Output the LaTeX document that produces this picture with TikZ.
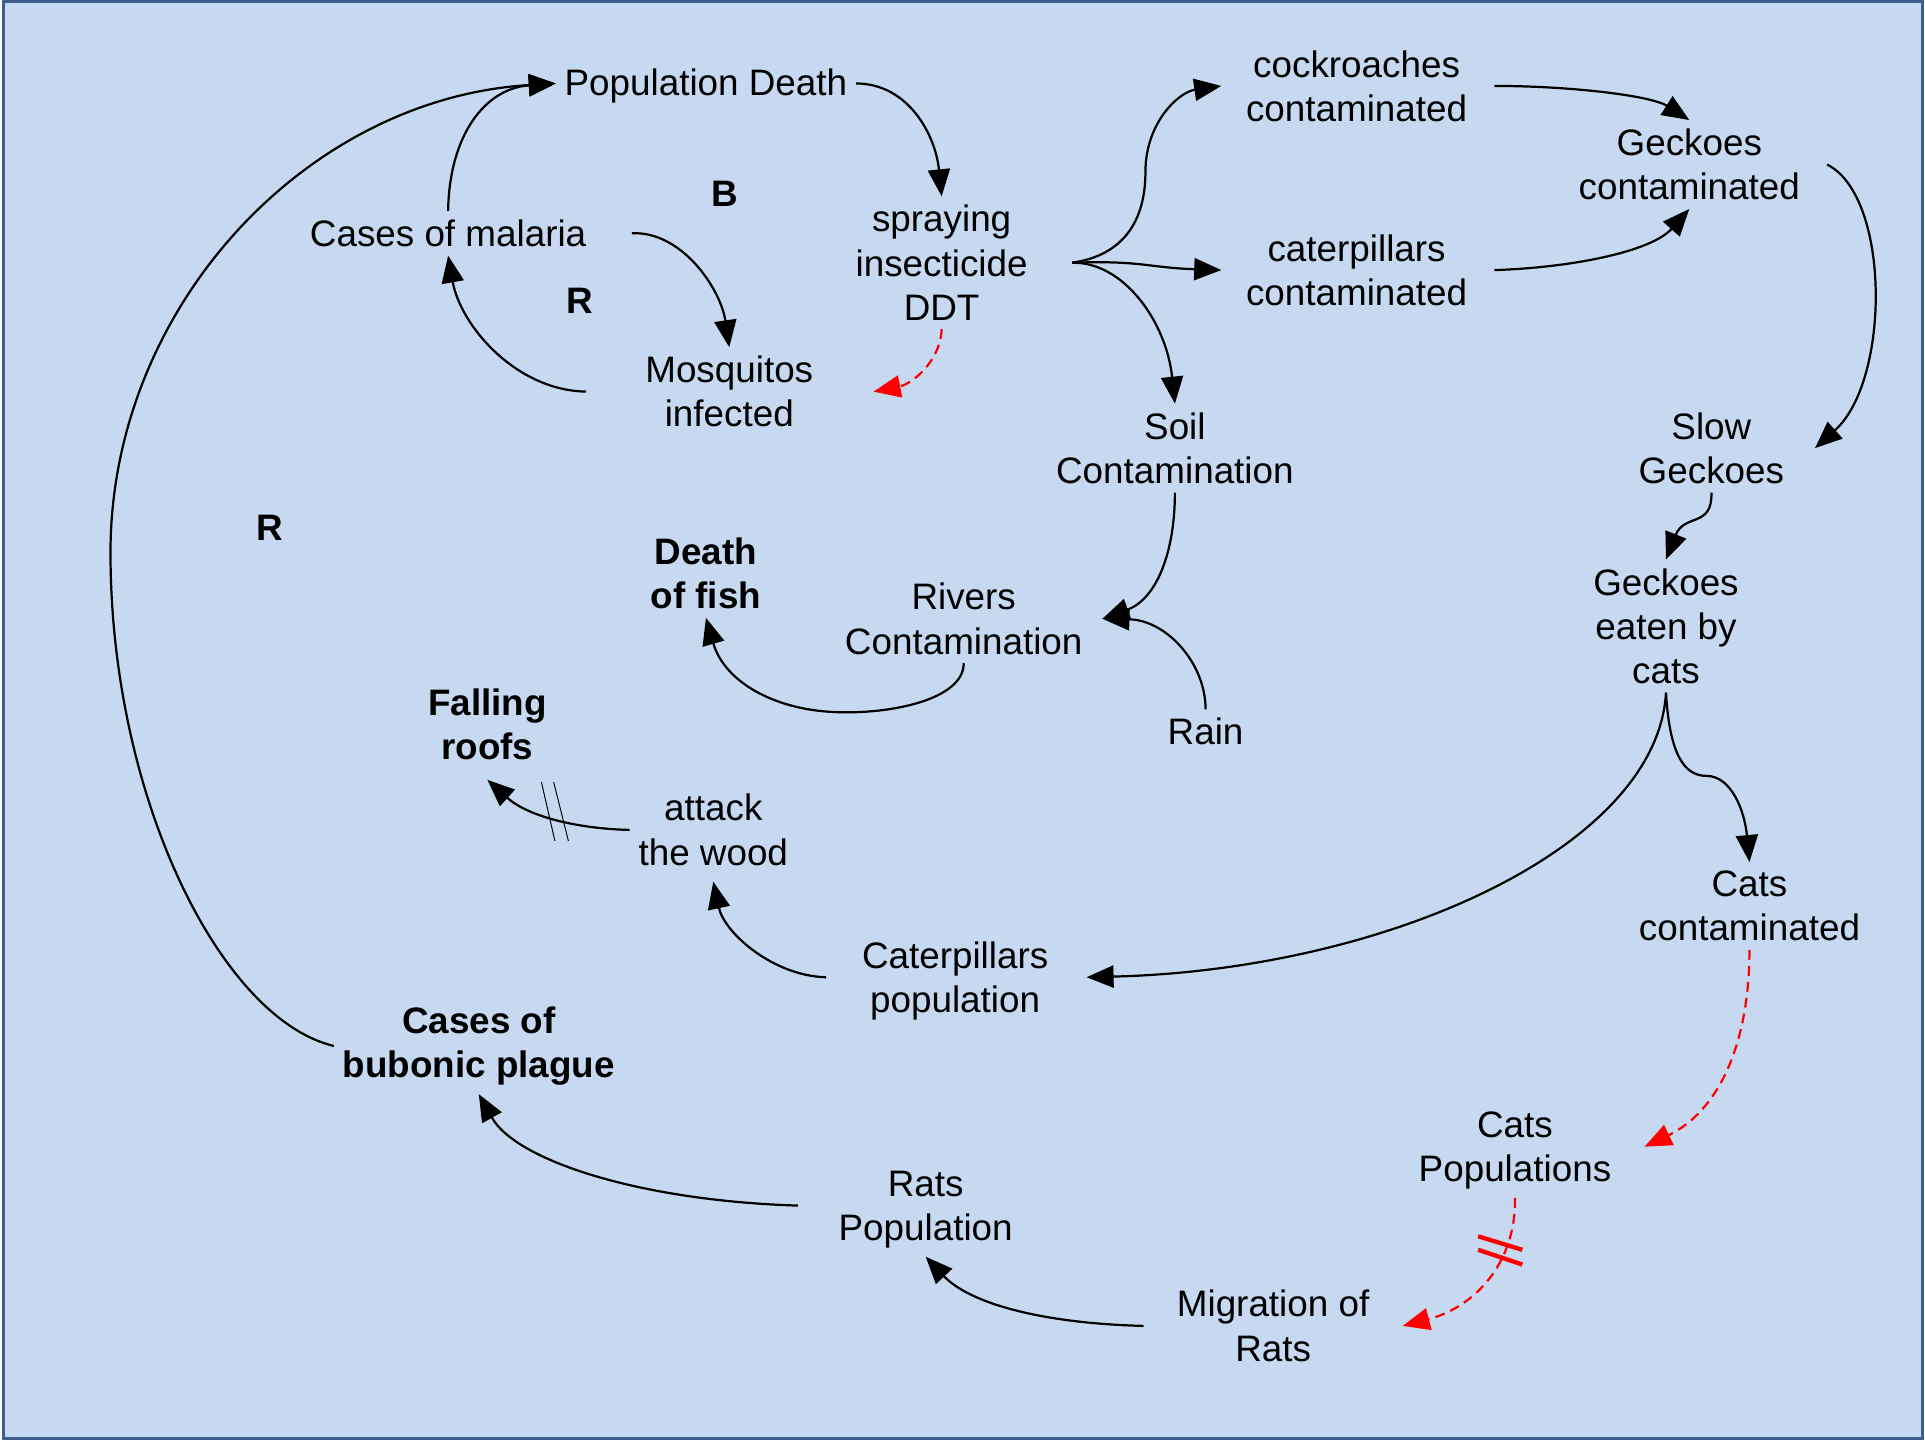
\documentclass[tikz,border=0pt]{standalone}
\usepackage{fontspec}
\setmainfont{Liberation Sans}
\usetikzlibrary{arrows.meta}
\definecolor{paneblue}{HTML}{C6D9F0}
\definecolor{frameblue}{HTML}{3B5E8C}
\begin{document}
\begin{tikzpicture}[x=1pt,y=-1pt,
    var/.style={align=center,inner sep=7pt,font=\fontsize{30}{36}\selectfont},
    keyvar/.style={var,font=\fontsize{30}{36}\selectfont\bfseries},
    link/.style={line width=1.8pt,-{Triangle[length=22pt,width=18pt]}},
    delay/.style={link,red,dash pattern=on 8pt off 5pt}]
  \useasboundingbox (0,0) rectangle (1568,1173);
  % panel
  \fill[white] (0,0) rectangle (1568,1173);
  \fill[paneblue] (3,1.5) rectangle (1566,1171.5);
  \draw[frameblue,line width=2.2pt] (3,1.5) rectangle (1566,1171.5);
  % variables
  \node[var] (popd) at (575,70) {Population Death};
  \node[var] (malaria) at (365,190) {Cases of malaria};
  \node[var] (mosq) at (594,319) {Mosquitos\\infected};
  \node[var] (ddt) at (767,214) {spraying\\insecticide\\DDT};
  \node[var] (cock) at (1105,70) {cockroaches\\contaminated};
  \node[var] (cater) at (1105,220) {caterpillars\\contaminated};
  \node[var] (geck) at (1376,134) {Geckoes\\contaminated};
  \node[var] (soil) at (957,365) {Soil\\Contamination};
  \node[var] (slow) at (1394,365) {Slow\\Geckoes};
  \node[var] (eaten) at (1357,510) {Geckoes\\eaten by\\cats};
  \node[keyvar] (fish) at (575,467) {Death\\of fish};
  \node[var] (rivers) at (785,504) {Rivers\\Contamination};
  \node[var] (rain) at (982,596) {Rain};
  \node[keyvar] (roofs) at (397,590) {Falling\\roofs};
  \node[var] (wood) at (581,676) {attack\\the wood};
  \node[var] (catscont) at (1425,738) {Cats\\contaminated};
  \node[var] (caterpop) at (778,799) {Caterpillars\\population};
  \node[keyvar] (plague) at (390,852) {Cases of\\bubonic plague};
  \node[var] (catspop) at (1234,937) {Cats\\Populations};
  \node[var] (rats) at (754,985) {Rats\\Population};
  \node[var] (migr) at (1037,1080) {Migration of\\Rats};
  % loop labels
  \node[keyvar] (loopB) at (590,158) {B};
  \node[keyvar] (loopR) at (472,245) {R};
  \node[keyvar] (bigR) at (220,430) {R};
  % malaria loops
  \draw[link] (malaria.north) .. controls (366,110) and (395,72) .. ([yshift=2pt]popd.west);
  \draw[link] (plague.west) .. controls (180,830) and (90,650) .. (90,450) .. controls (90,250) and (250,80) .. ([yshift=2pt]popd.west);
  \draw[link] ([yshift=2pt]popd.east) .. controls (740,68) and (762,110) .. (ddt.north);
  \draw[link] ([xshift=30pt]malaria.east) .. controls (555,188) and (587,235) .. (mosq.north);
  \draw[link] ([xshift=-41pt]mosq.west) .. controls (420,318) and (375,265) .. (malaria.south);
  \draw[delay] (ddt.south) .. controls (766,295) and (742,313) .. ([xshift=42pt]mosq.east);
  % spreading of DDT
  \draw[link] ([xshift=29pt]ddt.east) .. controls (915,208) and (933,180) .. (933,140) .. controls (933,100) and (960,75) .. ([xshift=-13pt]cock.west);
  \draw[link] ([xshift=29pt]ddt.east) .. controls (930,212) and (935,218) .. ([xshift=-13pt]cater.west);
  \draw[link] ([xshift=29pt]ddt.east) .. controls (915,213) and (950,262) .. (soil.north);
  \draw[link] ([xshift=15pt]cock.east) .. controls (1280,70) and (1345,78) .. (geck.north);
  \draw[link] ([xshift=15pt]cater.east) .. controls (1280,218) and (1345,205) .. (geck.south);
  \draw[link] ([xshift=15pt]geck.east) .. controls (1540,160) and (1540,310) .. ([xshift=18pt]slow.east);
  \draw[link] (slow.south) .. controls (1395,430) and (1372,418) .. (eaten.north);
  \draw[link] (soil.south) .. controls (957,450) and (942,488) .. ([xshift=9pt]rivers.east);
  \draw[link] (rain.north) .. controls (982,540) and (950,505) .. ([xshift=9pt]rivers.east);
  \draw[link] (rivers.south) .. controls (785,570) and (725,582) .. (680,580) .. controls (630,578) and (590,555) .. (fish.south);
  % cats and rats
  \draw[link] (eaten.south) .. controls (1350,690) and (1130,790) .. ([xshift=24pt,yshift=3pt]caterpop.east);
  \draw[link] (eaten.south) .. controls (1360,615) and (1372,632) .. (1390,632) .. controls (1410,632) and (1421,660) .. (catscont.north);
  \draw[delay] (catscont.south) .. controls (1425,850) and (1400,905) .. ([xshift=20pt,yshift=3pt]catspop.east);
  \draw[delay] (catspop.south) .. controls (1235,1030) and (1200,1065) .. ([xshift=20pt]migr.east);
  \draw[link] ([xshift=-20pt]migr.west) .. controls (850,1078) and (790,1062) .. (rats.south);
  \draw[link] ([xshift=-26pt,yshift=3pt]rats.west) .. controls (520,978) and (420,945) .. (plague.south);
  \draw[link] ([xshift=-22pt,yshift=3pt]caterpop.west) .. controls (630,795) and (590,760) .. ([yshift=-6pt]wood.south);
  \draw[link] (wood.west) .. controls (470,675) and (430,665) .. ([yshift=-9pt]roofs.south);
  % delay marks
  \draw[red,line width=3.5pt] (1204,1007) -- (1240,1018) (1204,1018) -- (1240,1030);
  \draw[line width=0.8pt] (441,637) -- (452,685) (451,637) -- (463,685);
\end{tikzpicture}
\end{document}
